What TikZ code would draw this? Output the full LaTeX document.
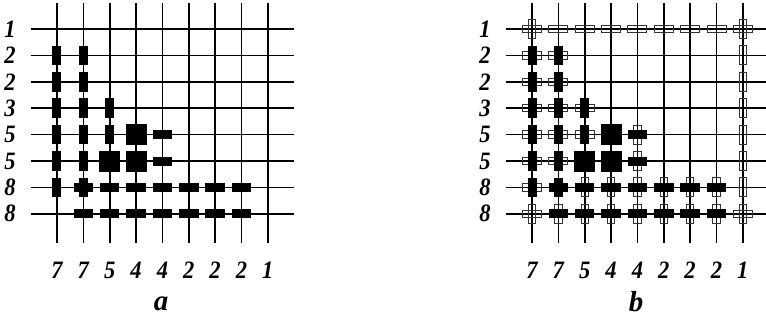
\documentclass[tikz,border=0pt]{standalone}
\usepackage{fontspec}
\setmainfont{Liberation Serif}

\tikzset{
  gridline/.style={line width=1.6pt},
  vbar/.style={fill=black,inner sep=0pt,minimum width=9pt,minimum height=19.5pt},
  hbar/.style={fill=black,inner sep=0pt,minimum width=19.5pt,minimum height=9pt},
  bigbox/.style={fill=black,inner sep=0pt,minimum size=21pt},
  vhole/.style={draw=black!80,line width=0.9pt,inner sep=0pt,minimum width=7.5pt,minimum height=19pt},
  hhole/.style={draw=black!80,line width=0.9pt,inner sep=0pt,minimum width=19pt,minimum height=7.5pt},
  numlabel/.style={font=\fontsize{25}{26}\selectfont\bfseries\itshape,inner sep=0pt,xscale=0.9},
  panelname/.style={font=\fontsize{29}{30}\selectfont\bfseries\itshape,inner sep=0pt}
}

% grid lines and row/column numbers of one panel
\newcommand\panelgrid[1]{
  \foreach \r/\n in {1/1,2/2,3/2,4/3,5/5,6/5,7/8,8/8}{
    \draw[gridline] (0,\r) -- (10,\r);
    \node[numlabel] (#1row\r) at (-0.78,\r) {\n};
  }
  \foreach \c/\n in {1/7,2/7,3/5,4/4,5/4,6/2,7/2,8/2,9/1}{
    \draw[gridline] (\c,0) -- (\c,9.1);
    \node[numlabel] (#1col\c) at (\c,10.13) {\n};
  }
}

% filled marks, the same in both panels
\newcommand\blackmarks[1]{
  \foreach \c/\r in {1/2,1/3,1/4,1/5,1/6,1/7,2/2,2/3,2/4,2/5,2/6,2/7,3/4,3/5}
    \node[vbar] (#1v\c\r) at (\c,\r) {};
  \foreach \c/\r in {5/5,5/6,2/7,3/7,4/7,5/7,6/7,7/7,8/7,2/8,3/8,4/8,5/8,6/8,7/8,8/8}
    \node[hbar] (#1h\c\r) at (\c,\r) {};
  \foreach \c/\r in {4/5,3/6,4/6}
    \node[bigbox] (#1s\c\r) at (\c,\r) {};
}

\begin{document}
\begin{tikzpicture}[x=26.35pt,y=-26.4pt]
\useasboundingbox (-30.65pt,2.6pt) rectangle (735.35pt,-318.4pt);

% panel a
\panelgrid{a}
\blackmarks{a}
\node[panelname] (capa) at (4.95,11.42) {a};

% panel b
\begin{scope}[xshift=475pt]
  \panelgrid{b}
  \foreach \c in {1,...,9}
    \node[hhole] (bo\c1) at (\c,1) {};
  \foreach \c/\r in {1/2,1/3,1/4,1/5,1/6,1/7,1/8,2/2,2/3,2/4,2/5,2/6,3/4,3/5,9/8}
    \node[hhole] (bo\c\r) at (\c,\r) {};
  \foreach \r in {1,...,8}
    \node[vhole] (bu9\r) at (9,\r) {};
  \foreach \c/\r in {1/1,1/8,5/5,5/6,3/7,4/7,5/7,6/7,7/7,8/7,2/8,3/8,4/8,5/8,6/8,7/8,8/8}
    \node[vhole] (bu\c\r) at (\c,\r) {};
  \blackmarks{b}
  \node[panelname] (capb) at (4.95,11.32) {b};
\end{scope}
\end{tikzpicture}
\end{document}
